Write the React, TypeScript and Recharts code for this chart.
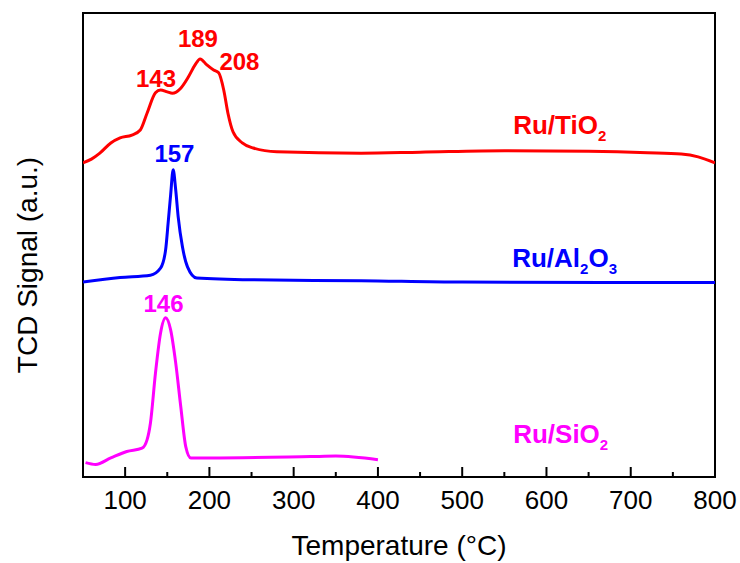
import React from 'react';
import { LineChart, Line, XAxis, YAxis, ReferenceArea, ReferenceDot } from 'recharts';

// Temperature (°C) and TCD signal (a.u.)
const tiTemp = [50, 60, 70, 83, 94, 108, 118, 126, 136, 142, 150, 156, 166, 175, 183, 189, 197, 205, 211, 217, 222, 228, 239, 252, 280, 380, 450, 550, 650, 720, 760, 780, 800];
const tiSignal = [67.7, 68.5, 69.8, 72.0, 73.1, 73.7, 74.8, 78.4, 82.8, 83.4, 83.0, 82.7, 83.8, 86.2, 88.8, 90.1, 88.8, 87.7, 87.1, 83.4, 78.4, 74.4, 72.0, 70.9, 70.1, 69.8, 70.0, 70.3, 70.2, 69.9, 69.6, 69.0, 67.7];

const alTemp = [50, 94, 130, 142, 148, 151, 154, 157, 160, 163, 168, 174, 185, 250, 380, 500, 800];
const alSignal = [42.0, 43.0, 43.5, 45.0, 48.9, 54.7, 60.8, 66.2, 61.9, 56.0, 49.6, 45.3, 42.9, 42.5, 42.3, 42.0, 41.9];

const siTemp = [53, 65, 83, 102, 120, 126, 130, 136, 142, 148, 154, 160, 166, 172, 178, 201, 320, 350, 400];
const siSignal = [3.1, 2.7, 4.1, 5.5, 6.2, 8.0, 11.6, 22.4, 31.0, 34.3, 31.7, 24.6, 15.2, 6.5, 4.1, 4.1, 4.4, 4.5, 3.7];

const xTicks = [100, 150, 200, 250, 300, 350, 400, 450, 500, 550, 600, 650, 700, 750, 800];

// Peak annotations: label text, anchor temperature, anchor signal, colour
const peakLabels = ['143', '189', '208', '157', '146'];
const peakTemp = [136.6, 186.4, 235.6, 158.5, 145.5];
const peakSignal = [84.05, 92.67, 87.72, 67.89, 35.56];
const peakColor = ['#FF0000', '#FF0000', '#FF0000', '#0000FF', '#FF00FF'];

// Series name labels: [main part, subscript, main part, subscript]
const seriesNames = [
  ['Ru/TiO', '2'],
  ['Ru/Al', '2', 'O', '3'],
  ['Ru/SiO', '2'],
];
const seriesNameTemp = [560.5, 559.3, 560.5];
const seriesNameSignal = [73.86, 45.32, 7.26];
const seriesColor = ['#FF0000', '#0000FF', '#FF00FF'];

const FONT = '"Liberation Sans", Arial, sans-serif';

const toRows = (t: number[], v: number[]) => t.map((x, i) => ({ t: x, v: v[i] }));
const tiData = toRows(tiTemp, tiSignal);
const alData = toRows(alTemp, alSignal);
const siData = toRows(siTemp, siSignal);

const renderTick = (props: any) => {
  const { x, y, payload } = props;
  const major = payload.value % 100 === 0;
  return (
    <g key={'tk' + payload.value}>
      <line x1={x} x2={x} y1={y} y2={y - (major ? 10 : 5)} stroke="#000" strokeWidth={2} />
      {major && (
        <text x={x} y={y + 32} textAnchor="middle" fontFamily={FONT} fontSize={26} fill="#000">
          {payload.value}
        </text>
      )}
    </g>
  );
};

export default function App() {
  return (
    <div style={{ position: 'fixed', left: 0, top: 0, width: 740, height: 563, background: '#fff' }}>
      <LineChart width={740} height={563} margin={{ top: 13, right: 25, bottom: 56, left: 83 }}>
        <XAxis
          dataKey="t"
          type="number"
          domain={[50, 800]}
          ticks={xTicks}
          interval={0}
          height={30}
          tickSize={0}
          tickMargin={0}
          tickLine={false}
          axisLine={false}
          tick={renderTick}
          allowDataOverflow
        />
        <YAxis type="number" domain={[0, 100]} hide allowDataOverflow />
        <ReferenceArea x1={50} x2={800} y1={0} y2={100} fill="none" stroke="#000" strokeWidth={2} ifOverflow="visible" />
        <Line data={tiData} dataKey="v" type="monotone" stroke="#FF0000" strokeWidth={3} dot={false} isAnimationActive={false} />
        <Line data={alData} dataKey="v" type="monotone" stroke="#0000FF" strokeWidth={3} dot={false} isAnimationActive={false} />
        <Line data={siData} dataKey="v" type="monotone" stroke="#FF00FF" strokeWidth={3} dot={false} isAnimationActive={false} />
        {peakLabels.map((lab, i) => (
          <ReferenceDot
            key={'p' + i}
            x={peakTemp[i]}
            y={peakSignal[i]}
            r={0}
            fill="none"
            stroke="none"
            ifOverflow="visible"
            label={(p: any) => (
              <text x={p.viewBox.x} y={p.viewBox.y} textAnchor="middle" fontFamily={FONT} fontSize={24} fontWeight="bold" fill={peakColor[i]}>
                {lab}
              </text>
            )}
          />
        ))}
        {seriesNames.map((parts, i) => (
          <ReferenceDot
            key={'s' + i}
            x={seriesNameTemp[i]}
            y={seriesNameSignal[i]}
            r={0}
            fill="none"
            stroke="none"
            ifOverflow="visible"
            label={(p: any) => (
              <text x={p.viewBox.x} y={p.viewBox.y} fontFamily={FONT} fontSize={26} fontWeight="bold" fill={seriesColor[i]}>
                {parts.map((s, k) =>
                  k % 2 === 0 ? (
                    <tspan key={k} dy={k === 0 ? 0 : -7} fontSize={26}>{s}</tspan>
                  ) : (
                    <tspan key={k} dy={7} fontSize={15}>{s}</tspan>
                  )
                )}
              </text>
            )}
          />
        ))}
      </LineChart>
      <svg width={740} height={563} style={{ position: 'absolute', left: 0, top: 0, pointerEvents: 'none' }}>
        <text x={399} y={555} textAnchor="middle" fontFamily={FONT} fontSize={28} fill="#000">
          Temperature (°C)
        </text>
        <text x={37} y={265} textAnchor="middle" fontFamily={FONT} fontSize={28} fill="#000" transform="rotate(-90 37 265)">
          TCD Signal (a.u.)
        </text>
      </svg>
    </div>
  );
}
